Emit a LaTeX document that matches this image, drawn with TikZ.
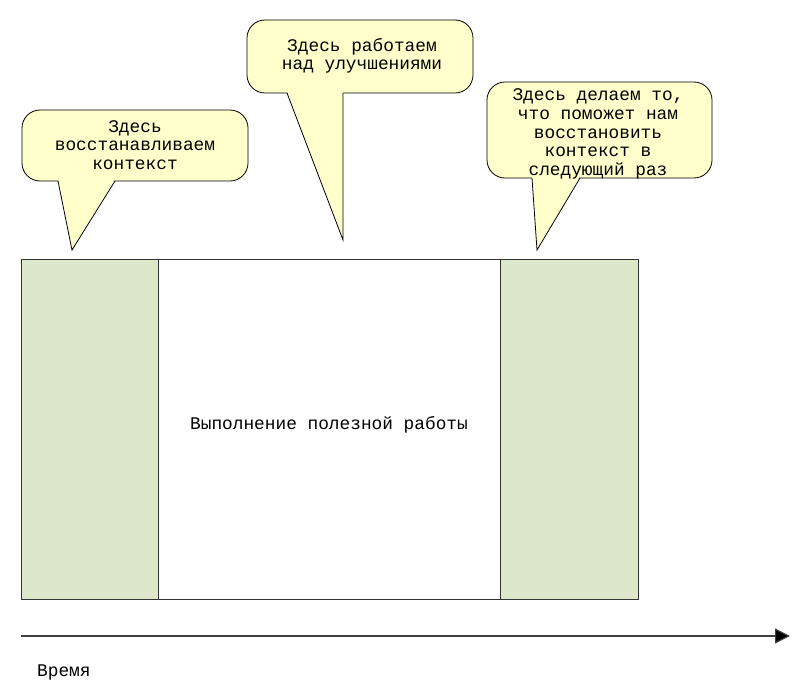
\documentclass[tikz,border=0pt]{standalone}
\usepackage{fontspec}
\setmainfont{Liberation Mono}
\usetikzlibrary{arrows.meta}
\definecolor{ctxgreen}{RGB}{221,231,204}
\definecolor{callyellow}{RGB}{255,255,204}
\tikzset{
  phase/.style={draw=black!80, line width=0.9pt, minimum height=340pt, inner sep=0pt, anchor=north west},
  ctxbox/.style={phase, fill=ctxgreen},
  calltext/.style={align=center, font=\fontsize{17.8}{18.6}\selectfont, inner sep=0pt},
  callbox/.style={draw=black, line width=0.8pt, fill=callyellow, rounded corners=18pt},
  calltail/.style={fill=callyellow},
  tailedge/.style={draw=black, line width=0.8pt},
}
\begin{document}
\begin{tikzpicture}[x=1pt,y=-1pt]
\useasboundingbox (0,0) rectangle (797,688);
% main phases
\node[ctxbox, minimum width=137pt] (restore) at (21,259) {};
\node[phase, fill=white, minimum width=342pt] (work) at (158,259) {};
\node[ctxbox, minimum width=138pt] (save) at (500,259) {};
\node[calltext] (worklbl) at (329,425) {Выполнение полезной работы};

% callout 1
\draw[callbox] (22,110) rectangle (248,181);
\fill[calltail] (58,179) -- (72,250) -- (115,179) -- cycle;
\draw[tailedge] (58,181) -- (72,250) -- (115,181);
\node[calltext] (c1) at (135,145) {Здесь\\восстанавливаем\\контекст};

% callout 2
\draw[callbox] (247,20) rectangle (473,93);
\fill[calltail] (287,91) -- (343,240) -- (343,91) -- cycle;
\draw[tailedge] (287,93) -- (343,240) -- (343,93);
\node[calltext] (c2) at (362,56) {Здесь работаем\\над улучшениями};

% callout 3
\draw[callbox] (487,82) rectangle (712,178);
\fill[calltail] (532,176) -- (537,250) -- (580,176) -- cycle;
\draw[tailedge] (532,178) -- (537,250) -- (580,178);
\node[calltext] (c3) at (598,134) {Здесь делаем то,\\что поможет нам\\восстановить\\контекст в\\следующий раз};

% time axis
\coordinate (tstart) at (21,636);
\coordinate (tend) at (790,636);
\draw[draw=black!75, line width=1.2pt, -{Triangle[length=15pt,width=15pt,fill=black]}] (tstart) -- (tend);
\node[calltext, anchor=west] (time) at (37,672) {Время};
\end{tikzpicture}
\end{document}
